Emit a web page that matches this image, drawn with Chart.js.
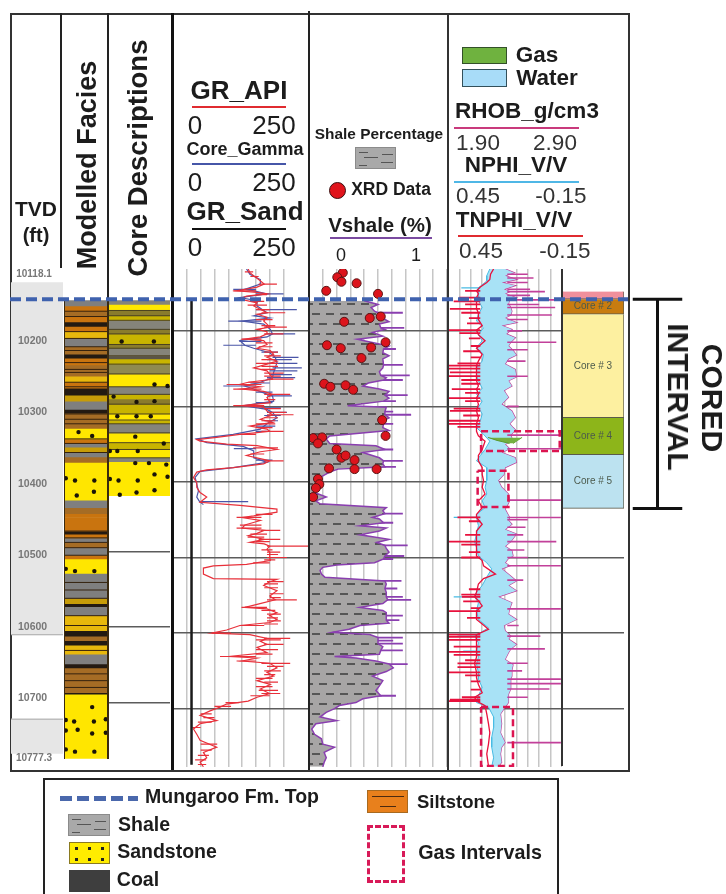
<!DOCTYPE html>
<html>
<head>
<meta charset="utf-8">
<title>Well log</title>
<script src="https://cdn.jsdelivr.net/npm/chart.js@4/dist/chart.umd.min.js"></script>
<style>
html, body { margin: 0; padding: 0; background: #fff; }
#page { position: relative; width: 726px; height: 894px; overflow: hidden; filter: blur(.35px);
        font-family: "Liberation Sans", Arial, sans-serif; color: #1c1c1c; }
canvas { position: absolute; top: 269px; }
.t { position: absolute; white-space: nowrap; line-height: 1; transform: translate(-50%, -50%); }
.b { font-weight: bold; }
.up { transform: translate(-50%, -50%) rotate(-90deg); }
.down { transform: translate(-50%, -50%) rotate(90deg); }
.r { position: absolute; }
.shale { background: #a9a9a9; border: 1px solid #8b8b8b; box-sizing: border-box; }
.shale i { position: absolute; height: 1px; background: #555; }
</style>
</head>
<body>
<div id="page">
  <div class="r" style="left:10px;top:13px;width:616px;height:755px;border:2px solid #333"></div>
  <div class="r" style="left:60px;top:13px;width:2px;height:255px;background:#222"></div>
  <div class="r" style="left:107px;top:13px;width:2px;height:285px;background:#222"></div>

  <div class="t b" style="left:36px;top:208px;font-size:21px">TVD</div>
  <div class="t b" style="left:36px;top:235px;font-size:20px">(ft)</div>
  <div class="t b up" style="left:87px;top:165px;font-size:27px">Modelled Facies</div>
  <div class="t b up" style="left:138px;top:158px;font-size:27.5px">Core Descriptions</div>

  <div class="t b" style="left:239px;top:90px;font-size:26px">GR_API</div>
  <div class="r" style="left:192px;top:106px;width:94px;height:2px;background:#e02b30"></div>
  <div class="t" style="left:195px;top:125px;font-size:26px">0</div>
  <div class="t" style="left:274px;top:125px;font-size:26px">250</div>
  <div class="t b" style="left:245px;top:149px;font-size:18px">Core_Gamma</div>
  <div class="r" style="left:192px;top:163px;width:94px;height:2px;background:#4656a8"></div>
  <div class="t" style="left:195px;top:182px;font-size:26px">0</div>
  <div class="t" style="left:274px;top:182px;font-size:26px">250</div>
  <div class="t b" style="left:245px;top:211px;font-size:26px">GR_Sand</div>
  <div class="r" style="left:192px;top:228px;width:94px;height:2px;background:#111"></div>
  <div class="t" style="left:195px;top:247px;font-size:26px">0</div>
  <div class="t" style="left:274px;top:247px;font-size:26px">250</div>

  <div class="t b" style="left:379px;top:134px;font-size:15.4px">Shale Percentage</div>
  <div class="r shale" style="left:355px;top:147px;width:41px;height:22px">
    <i style="left:3px;top:4px;width:9px"></i><i style="left:8px;top:9px;width:14px"></i>
    <i style="left:26px;top:6px;width:11px"></i><i style="left:25px;top:14px;width:12px"></i><i style="left:3px;top:17px;width:8px"></i>
  </div>
  <div class="r" style="left:329px;top:182px;width:15px;height:15px;border-radius:50%;background:#e0141c;border:1.5px solid #3a1010"></div>
  <div class="t b" style="left:391px;top:190px;font-size:17.5px">XRD Data</div>
  <div class="t b" style="left:380px;top:225px;font-size:20.5px">Vshale (%)</div>
  <div class="r" style="left:330px;top:237px;width:102px;height:2px;background:#7a4aa0"></div>
  <div class="t" style="left:341px;top:255px;font-size:18px">0</div>
  <div class="t" style="left:416px;top:255px;font-size:18px">1</div>

  <div class="r" style="left:462px;top:47px;width:45px;height:17px;background:#6fb23f;border:1.5px solid #33502a;box-sizing:border-box"></div>
  <div class="t b" style="left:537px;top:55px;font-size:22.5px">Gas</div>
  <div class="r" style="left:462px;top:69px;width:45px;height:18px;background:#a8dcf8;border:1.5px solid #33505a;box-sizing:border-box"></div>
  <div class="t b" style="left:547px;top:78px;font-size:22.5px">Water</div>
  <div class="t b" style="left:527px;top:111px;font-size:22.5px">RHOB_g/cm3</div>
  <div class="r" style="left:454px;top:127px;width:125px;height:2px;background:#c93a7c"></div>
  <div class="t" style="left:478px;top:143px;font-size:22.5px;color:#333">1.90</div>
  <div class="t" style="left:555px;top:143px;font-size:22.5px;color:#333">2.90</div>
  <div class="t b" style="left:516px;top:165px;font-size:22.5px">NPHI_V/V</div>
  <div class="r" style="left:454px;top:181px;width:125px;height:2px;background:#4fb7e6"></div>
  <div class="t" style="left:478px;top:196px;font-size:22.5px;color:#333">0.45</div>
  <div class="t" style="left:561px;top:196px;font-size:22.5px;color:#333">-0.15</div>
  <div class="t b" style="left:514px;top:220px;font-size:22.5px">TNPHI_V/V</div>
  <div class="r" style="left:458px;top:235px;width:125px;height:2px;background:#e02b30"></div>
  <div class="t" style="left:481px;top:251px;font-size:22.5px;color:#333">0.45</div>
  <div class="t" style="left:565px;top:251px;font-size:22.5px;color:#333">-0.15</div>

  <canvas id="tvdChart" width="52" height="498" style="left:11px"></canvas>
  <canvas id="faciesChart" width="44" height="498" style="left:64px"></canvas>
  <canvas id="coreChart" width="62" height="498" style="left:108px"></canvas>
  <canvas id="grChart" width="136" height="498" style="left:173px"></canvas>
  <canvas id="vshaleChart" width="138" height="498" style="left:309px"></canvas>
  <canvas id="densityChart" width="114" height="498" style="left:448px"></canvas>
  <canvas id="coresChart" width="62" height="498" style="left:562px"></canvas>

  <div class="t" style="left:34px;top:274px;font-size:10px;color:#777;font-weight:bold">10118.1</div>
  <div class="t" style="left:34px;top:758px;font-size:10px;color:#777;font-weight:bold">10777.3</div>

  <div class="r" style="left:64px;top:300px;width:1px;height:459px;background:#3a2a10"></div>
  <div class="r" style="left:107px;top:300px;width:2px;height:459px;background:#3a2a10"></div>
  <div class="r" style="left:171px;top:13px;width:3px;height:757px;background:#111"></div>
  <div class="r" style="left:308px;top:11px;width:2px;height:759px;background:#222"></div>
  <div class="r" style="left:447px;top:13px;width:2px;height:757px;background:#333"></div>
  <div class="r" style="left:561px;top:269px;width:2px;height:497px;background:#333"></div>

  <canvas id="topChart" width="618" height="498" style="left:10px"></canvas>
  <canvas id="coredChart" width="55" height="498" style="left:630px"></canvas>
  <div class="t b down" style="left:712px;top:398px;font-size:30px">CORED</div>
  <div class="t b down" style="left:678px;top:397px;font-size:30px">INTERVAL</div>

  <div class="r" style="left:43px;top:778px;width:512px;height:130px;border:2px solid #222"></div>
  <div class="r" style="left:60px;top:796px;width:78px;height:5px;background:repeating-linear-gradient(90deg,#4a68ac 0 12px,transparent 12px 17px)"></div>
  <div class="t b" style="left:232px;top:797px;font-size:19.5px">Mungaroo Fm. Top</div>
  <div class="r shale" style="left:68px;top:814px;width:42px;height:22px">
    <i style="left:3px;top:4px;width:9px"></i><i style="left:8px;top:9px;width:14px"></i>
    <i style="left:26px;top:6px;width:11px"></i><i style="left:25px;top:14px;width:12px"></i><i style="left:3px;top:17px;width:8px"></i>
  </div>
  <div class="t b" style="left:144px;top:825px;font-size:19.5px">Shale</div>
  <div class="r" style="left:69px;top:842px;width:41px;height:22px;background-color:#ffec00;border:1px solid #8a7a20;box-sizing:border-box;background-image:radial-gradient(circle,#222 1.6px,transparent 2px);background-size:13px 11px"></div>
  <div class="t b" style="left:167px;top:852px;font-size:19.5px">Sandstone</div>
  <div class="r" style="left:69px;top:870px;width:41px;height:22px;background:#3e3e3e"></div>
  <div class="t b" style="left:138px;top:880px;font-size:19.5px">Coal</div>
  <div class="r" style="left:367px;top:790px;width:41px;height:23px;background:#e8801c;border:1px solid #a86a20;box-sizing:border-box">
    <i class="r" style="left:4px;top:5px;width:32px;height:1px;background:#4a2a10"></i>
    <i class="r" style="left:12px;top:15px;width:16px;height:1px;background:#4a2a10"></i>
  </div>
  <div class="t b" style="left:456px;top:802px;font-size:18.5px">Siltstone</div>
  <div class="r" style="left:367px;top:825px;width:38px;height:58px;border:3px dashed #d81a58;box-sizing:border-box"></div>
  <div class="t b" style="left:480px;top:853px;font-size:19.7px">Gas Intervals</div>
</div>

<script>
const depthMin = 10118.1;
const depthMax = 10777.3;
const depthTicks = [10200, 10300, 10400, 10500, 10600, 10700];
const coreGridTicks = [10492, 10592, 10692];
const formationTop = 10158;
const coredInterval = [10158, 10435];

const tvdZones = [[10118.1, 10611], [10729, 10777.3]];
const tvdZoneEdges = [10611, 10729];

const faciesTops = [10160,10167,10174,10181,10188,10194,10201,10210,10221,10231,10236,10245,10255,10260,10268,10276,10285,10293,10304,10309,10317,10329,10343,10349,10354,10361,10367,10374,10424,10434,10442,10447,10465,10469,10474,10480,10487,10497,10502,10521,10533,10543,10554,10561,10565,10577,10597,10604,10610,10616,10628,10641,10646,10679,10681,10766];
const faciesRocks = ['shale','silt','mixed','silt','coal','silt','sandySilt','shale','mixed','coal','silt','mixed','mixed','sandySilt','silt','coal','gold','shale','coal','mixed','mixed','sand','silt','shale','gold','shale','mixed','sand','shale','mixed','silt','silt','coal','silt','shale','mixed','shale','silt','sand','shale','shale','shale','gold','coal','shale','sandySilt','coal','mixed','coal','sandySilt','shale','coal','mixed','coal','sand'];
const faciesDotDepth = [10334,10339,10395,10398,10398,10418,10413,10515,10518,10518,10698,10715,10717,10717,10714,10728,10729,10733,10732,10754,10757,10757];
const faciesDotPos = [.33,.64,.04,.25,.69,.29,.68,.04,.25,.69,.64,.04,.23,.68,.95,.31,.04,.64,.95,.04,.25,.69];
const faciesStreaks = [10174,10181,10201,10210,10221,10226,10242,10251,10255,10268,10274,10310,10317,10323,10343,10349,10361,10465,10474,10480,10487,10497,10533,10543,10554,10577,10590,10623,10654,10663,10672];

const coreTops = [10160,10165,10173,10180,10186,10198,10204,10218,10223,10233,10237,10244,10257,10274,10284,10290,10297,10310,10318,10323,10335,10348,10357,10368,10373,10418];
const coreRocks = ['grey','sand','olive','gold','grey','olive','gold','olive','grey','dark','gold','greyOlive','sand','grey','gold','olive','gold','sand','gold','grey','sand','gold','sand','grey','sand'];
const coreDotDepth = [10214,10214,10271,10273,10294,10293,10287,10313,10313,10313,10340,10359,10359,10359,10349,10375,10375,10377,10390,10393,10396,10398,10398,10411,10414,10417];
const coreDotPos = [.22,.74,.75,.96,.46,.75,.09,.15,.46,.69,.44,.03,.15,.48,.90,.44,.66,.94,.75,.96,.03,.17,.48,.75,.46,.19];
const coreStreaks = [10173,10180,10186,10198,10204,10218,10223,10233,10244,10257,10274,10284,10297,10310,10318,10323,10335,10348,10357,10368];

const grSandCutoff = 33.5;
const grApiDepth = [10118,10123,10127,10132,10138,10142,10145,10147,10149,10151,10154,10158,10163,10167,10176,10178,10182,10187,10191,10195,10198,10201,10204,10208,10211,10213,10218,10223,10226,10231,10235,10240,10244,10249,10253,10260,10264,10268,10271,10274,10277,10280,10284,10288,10295,10299,10301,10306,10311,10317,10321,10326,10330,10333,10337,10341,10344,10346,10350,10352,10357,10360,10365,10372,10376,10381,10384,10387,10394,10401,10407,10414,10420,10427,10431,10436,10440,10445,10447,10451,10457,10461,10464,10468,10471,10476,10480,10482,10485,10489,10493,10500,10504,10509,10511,10514,10522,10528,10529,10532,10537,10544,10551,10556,10562,10566,10568,10573,10577,10582,10586,10590,10596,10600,10602,10607,10611,10615,10619,10626,10631,10633,10637,10640,10646,10652,10657,10663,10668,10674,10680,10685,10690,10694,10698,10703,10709,10716,10720,10727,10734,10742,10751,10758,10765,10771,10777];
const grApi = [136,139,146,155,165,152,130,115,152,170,133,121,152,146,170,152,170,164,170,175,152,170,170,158,130,164,170,152,176,182,170,188,170,146,170,178,180,136,120,158,125,164,180,170,176,125,164,170,180,158,180,139,170,175,121,79,43,49,97,152,188,158,133,175,164,109,61,43,37,43,43,49,61,49,121,188,188,146,125,158,130,125,165,152,136,165,139,165,175,170,175,175,176,133,73,55,55,73,188,175,164,188,175,185,152,130,170,188,175,188,175,121,97,70,139,170,158,170,152,170,100,152,125,175,188,170,182,152,176,158,175,152,136,97,85,67,49,79,49,37,43,49,79,55,61,49,55];
const grNeedleDepth = [10138,10147,10176,10195,10204,10211,10260,10264,10268,10271,10277,10284,10299,10311,10333,10337,10372,10447,10457,10461,10464,10476,10485,10493,10500,10532,10556,10566,10590,10600,10607,10615,10631,10637,10640,10680,10122,10128,10152,10161,10166,10172,10185,10193,10216,10221,10228,10233,10238,10243,10247,10251,10256,10291,10303,10308,10315,10319,10323,10328,10355,10363,10443,10469,10473,10479,10490,10496,10503,10507,10535,10540,10548,10553,10570,10575,10580,10584,10588,10609,10622,10628,10644,10650,10655,10660,10665,10671,10676,10683,10692,10697,10707,10712,10718,10725,10747,10755,10762,10768,10774];
const grNeedleFrom = [155,150,160,165,165,160,165,170,165,160,160,165,165,170,160,150,165,160,160,160,160,155,170,170,170,170,170,170,165,105,165,165,150,150,160,160,130,140,150,140,135,150,150,160,150,155,165,165,160,150,160,160,165,165,165,175,165,160,150,150,145,140,150,140,135,150,160,170,165,145,165,165,175,175,160,170,170,170,165,150,150,150,170,165,165,150,165,150,155,140,95,75,50,55,45,35,50,50,45,40,45];
const grNeedleTo = [188,109,203,206,200,124,195,218,136,97,109,212,109,218,200,121,200,115,121,115,194,194,245,194,206,200,224,124,121,70,212,200,85,115,212,194,145,155,170,165,170,175,180,185,180,180,190,195,185,190,190,185,200,185,195,205,190,185,185,180,190,165,180,170,165,175,180,190,185,175,190,190,200,195,185,195,190,195,190,195,190,180,200,195,185,180,190,180,190,175,120,105,70,75,70,50,80,70,65,60,60];
const coreGammaDepth = [10118,10125,10132,10138,10145,10147,10151,10156,10160,10167,10176,10180,10183,10187,10191,10198,10204,10208,10213,10219,10223,10229,10235,10242,10249,10255,10262,10268,10273,10277,10282,10286,10293,10299,10304,10308,10315,10323,10330,10337,10343,10348,10353,10359,10368,10374,10381,10386,10394,10403,10412,10420,10426,10430];
const coreGamma = [133,139,158,158,130,146,170,121,152,152,170,146,175,125,164,176,180,170,121,130,146,175,185,188,185,182,180,158,130,146,164,180,182,127,170,180,188,170,158,109,43,61,127,146,146,170,109,49,40,43,46,43,48,55];
const gammaNeedleDepth = [10172,10187,10204,10219,10235,10249,10262,10273,10286,10308,10426,10238,10243,10253,10258,10295,10145,10151,10228,10214,10269,10281,10302,10312,10319,10326,10333,10356,10371];
const gammaNeedleFrom = [150,160,170,150,180,180,170,150,170,170,50,170,170,175,175,150,150,150,160,120,140,150,160,165,165,150,150,110,150];
const gammaNeedleTo = [224,100,221,91,227,233,221,91,215,206,136,215,225,225,215,180,109,200,190,160,175,180,195,195,190,185,175,150,180];

const vshaleDepth = [10160,10165,10169,10174,10176,10179,10183,10188,10191,10196,10198,10202,10207,10211,10215,10220,10224,10229,10233,10237,10245,10249,10254,10259,10262,10265,10269,10273,10277,10280,10285,10289,10293,10299,10301,10307,10311,10315,10319,10323,10328,10332,10339,10343,10349,10352,10357,10361,10368,10372,10376,10380,10383,10387,10394,10401,10407,10414,10420,10425,10429,10434,10438,10442,10447,10449,10454,10458,10461,10465,10470,10476,10480,10484,10488,10493,10498,10502,10507,10510,10513,10517,10522,10526,10528,10531,10535,10541,10546,10552,10556,10561,10566,10570,10573,10577,10583,10587,10590,10595,10599,10602,10606,10610,10614,10618,10623,10628,10631,10633,10637,10641,10646,10651,10657,10663,10670,10676,10683,10687,10692,10696,10700,10705,10711,10716,10720,10727,10734,10740,10747,10751,10758,10765,10771,10777];
const vshale = [.40,.50,.45,.475,.50,.51,.535,.58,.51,.52,.55,.46,.535,.35,.45,.58,.54,.535,.58,.535,.54,.535,.51,.52,.56,.54,.43,.39,.51,.58,.55,.58,.54,.28,.56,.55,.55,.58,.535,.54,.535,.58,.15,.125,.15,.485,.55,.39,.51,.54,.535,.55,.21,.15,.08,.065,.03,.04,.125,.05,.08,.56,.535,.55,.46,.51,.54,.37,.56,.51,.37,.58,.49,.55,.56,.58,.55,.54,.475,.2,.10,.08,.09,.115,.29,.55,.56,.55,.56,.56,.57,.535,.37,.535,.56,.56,.56,.58,.37,.29,.17,.44,.5,.5,.5,.535,.52,.51,.185,.34,.485,.58,.61,.56,.46,.535,.51,.485,.52,.39,.34,.22,.185,.125,.08,.2,.05,.02,.04,.09,.10,.185,.11,.125,.11,.10];
const vshaleNeedleDepth = [10176,10196,10224,10245,10259,10265,10285,10293,10307,10311,10323,10357,10372,10380,10442,10454,10484,10498,10502,10531,10541,10552,10556,10577,10583,10606,10610,10614,10623,10641,10646,10683];
const vshaleNeedleFrom = [.45,.50,.50,.50,.50,.50,.50,.50,.50,.50,.50,.50,.50,.50,.50,.50,.50,.50,.50,.50,.50,.50,.50,.50,.50,.45,.45,.45,.45,.50,.50,.50];
const vshaleNeedleTo = [.68,.69,.63,.68,.73,.68,.715,.63,.61,.74,.61,.61,.68,.63,.68,.61,.715,.69,.61,.67,.64,.68,.74,.68,.655,.68,.61,.68,.68,.715,.61,.63];
const xrdDepth = [10123,10129,10135,10137,10147,10151,10188,10183,10181,10219,10223,10215,10222,10236,10270,10274,10272,10278,10318,10339,10342,10341,10349,10357,10368,10365,10371,10383,10382,10383,10396,10403,10408,10420];
const xrdShale = [.245,.205,.235,.345,.125,.50,.255,.44,.52,.13,.23,.555,.45,.38,.11,.155,.265,.32,.53,.555,.03,.095,.065,.20,.235,.265,.33,.33,.145,.49,.065,.075,.05,.03];

const rhobDepth = [10118,10123,10127,10132,10136,10140,10145,10148,10151,10156,10159,10164,10169,10174,10179,10183,10189,10193,10198,10204,10209,10215,10220,10226,10232,10237,10244,10251,10261,10266,10273,10279,10288,10297,10306,10315,10323,10328,10331,10338,10342,10346,10350,10356,10361,10368,10374,10381,10390,10398,10407,10416,10424,10428,10436,10447,10451,10456,10463,10469,10479,10485,10491,10498,10501,10507,10511,10515,10522,10531,10537,10544,10552,10560,10568,10575,10582,10590,10597,10604,10608,10615,10621,10626,10635,10642,10649,10657,10661,10664,10667,10674,10681,10692,10698,10707,10720,10732,10745,10751,10760,10771,10777];
const rhob = [2.40,2.48,2.40,2.50,2.37,2.49,2.39,2.44,2.40,2.50,2.44,2.43,2.45,2.46,2.45,2.40,2.50,2.37,2.46,2.41,2.49,2.45,2.43,2.47,2.50,2.43,2.40,2.49,2.50,2.43,2.46,2.39,2.43,2.37,2.46,2.49,2.44,2.47,2.49,2.45,2.46,2.46,2.40,2.44,2.37,2.49,2.50,2.40,2.39,2.34,2.37,2.43,2.44,2.43,2.40,2.44,2.43,2.46,2.40,2.50,2.45,2.40,2.46,2.47,2.43,2.40,2.44,2.37,2.43,2.50,2.43,2.50,2.34,2.46,2.44,2.43,2.50,2.39,2.40,2.45,2.43,2.50,2.45,2.43,2.40,2.47,2.46,2.46,2.45,2.45,2.45,2.45,2.43,2.43,2.40,2.36,2.37,2.36,2.40,2.37,2.36,2.37,2.34];
const rhobNeedleDepth = [10148,10159,10169,10179,10215,10338,10356,10424,10447,10479,10511,10568,10604,10621,10661,10667,10674,10745,10125,10130,10136,10145,10153,10165,10185,10200,10225,10240,10260,10300,10450,10460,10470,10490,10500,10530,10590,10640,10650,10685];
const rhobNeedleTo = [2.75,2.89,2.84,2.81,2.85,2.89,2.89,2.89,2.89,2.85,2.89,2.89,2.71,2.75,2.89,2.89,2.79,2.89,2.6,2.65,2.6,2.62,2.62,2.7,2.6,2.55,2.6,2.58,2.6,2.52,2.6,2.58,2.56,2.57,2.6,2.56,2.52,2.6,2.55,2.6];
const nphiDepth = [10118,10127,10134,10143,10151,10160,10169,10178,10187,10196,10205,10213,10222,10231,10240,10249,10259,10266,10276,10284,10293,10301,10310,10319,10328,10337,10346,10357,10365,10372,10381,10390,10398,10407,10416,10425,10434,10443,10447,10458,10469,10479,10487,10498,10507,10515,10526,10537,10546,10552,10560,10570,10582,10593,10604,10613,10624,10632,10641,10652,10661,10672,10683,10692,10698,10711,10725,10738,10751,10765,10777];
const nphi = [.23,.246,.246,.29,.29,.29,.27,.29,.30,.263,.29,.27,.30,.263,.27,.30,.30,.29,.27,.30,.27,.29,.27,.28,.30,.263,.23,.255,.28,.30,.246,.246,.246,.255,.246,.27,.255,.30,.30,.29,.30,.31,.30,.29,.246,.22,.246,.27,.30,.31,.29,.30,.29,.237,.31,.29,.30,.29,.30,.29,.29,.27,.29,.30,.237,.21,.21,.22,.22,.21,.22];
const nphiNeedleDepth = [10143,10447,10552,10479,10604,10624];
const nphiNeedleTo = [.38,.42,.42,.36,.40,.37];
const tnphiDepth = [10118,10125,10132,10136,10142,10147,10151,10156,10161,10167,10171,10176,10185,10193,10199,10205,10213,10223,10231,10240,10246,10255,10260,10266,10273,10277,10284,10289,10297,10306,10315,10323,10328,10333,10339,10346,10357,10365,10372,10381,10390,10398,10407,10416,10425,10434,10443,10447,10456,10465,10479,10487,10498,10504,10511,10522,10528,10535,10546,10552,10557,10564,10571,10582,10588,10595,10602,10609,10615,10625,10632,10640,10652,10659,10668,10679,10685,10690,10696,10707,10720,10732,10747,10760,10776];
const tnphi = [.21,.226,.23,.246,.28,.30,.29,.30,.30,.30,.30,.29,.29,.27,.30,.29,.255,.30,.27,.29,.30,.30,.30,.30,.29,.30,.29,.30,.29,.30,.29,.30,.30,.30,.29,.255,.27,.29,.29,.27,.27,.263,.27,.255,.29,.27,.30,.30,.27,.30,.30,.30,.30,.27,.263,.20,.263,.29,.30,.31,.29,.27,.30,.30,.27,.237,.30,.30,.30,.30,.30,.31,.30,.30,.29,.27,.31,.30,.255,.246,.237,.23,.237,.246,.237];
const tnphiNeedleDepth = [10147,10156,10161,10171,10199,10246,10255,10260,10277,10289,10306,10323,10479,10571,10602,10609,10625,10640,10652,10690,10685,10552,10165,10176,10183,10190,10203,10210,10220,10227,10235,10243,10250,10265,10270,10282,10293,10303,10312,10319,10327,10447,10452,10470,10483,10493,10500,10542,10549,10558,10567,10580,10605,10618,10629,10636,10645,10656,10664,10675,10688];
const tnphiNeedleTo = [.36,.39,.42,.44,.447,.447,.44,.447,.43,.447,.44,.447,.447,.45,.447,.447,.45,.40,.447,.447,.377,.377,.36,.38,.34,.35,.39,.34,.33,.37,.33,.40,.447,.38,.38,.36,.36,.42,.37,.447,.40,.40,.34,.36,.38,.34,.38,.34,.38,.37,.33,.35,.447,.42,.42,.36,.40,.36,.33,.33,.44];
const gasLensDepth = [10341, 10345, 10349];
const gasLensLeft = [2.25, 2.33, 2.44];
const gasLensRight = [2.55, 2.51, 2.47];
const gasBoxLeft = [2.19, 2.16, 2.19];
const gasBoxRight = [2.88, 2.43, 2.47];
const gasBoxTop = [10333, 10385, 10698];
const gasBoxBase = [10359, 10433, 10776];

const coreLabels = ['', 'Core # 2', 'Core # 3', 'Core # 4', 'Core # 5'];
const coreTopsRight = [10148, 10158, 10178, 10315, 10364];
const coreBaseRight = [10158, 10178, 10315, 10364, 10435];

const rockColors = { shale: '#7f7f7f', silt: '#c9740f', mixed: '#a56c25', coal: '#231a12', sandySilt: '#e8b80c', gold: '#c79c08', sand: '#ffe600' };
const coreColors = { grey: '#85847a', sand: '#ffe800', olive: '#8a7c2c', gold: '#c8b400', dark: '#5a5448', greyOlive: '#8f8a50' };
const boxColors = ['#f0909c', '#c87c10', '#fdf0a0', '#8db51a', '#bce2f0'];

function pairs(xs, ys) {
    return xs.map((x, i) => ({ x: x, y: ys[i] }));
}

function shalePattern() {
    const c = document.createElement('canvas');
    c.width = 28;
    c.height = 20;
    const g = c.getContext('2d');
    g.fillStyle = '#a7a5a5';
    g.fillRect(0, 0, 28, 20);
    g.fillStyle = '#565656';
    [[3, 4], [17, 4], [10, 14], [24, 14], [-4, 14]].forEach(p => g.fillRect(p[0], p[1], 8, 2));
    return g.createPattern(c, 'repeat');
}

function depthAxis(ticks) {
    return {
        type: 'linear', axis: 'y', reverse: true, min: depthMin, max: depthMax,
        afterBuildTicks: s => { s.ticks = ticks.map(v => ({ value: v })); },
        afterFit: s => { s.width = 0; },
        ticks: { display: false },
        grid: { color: '#5c5c5c', lineWidth: 1.5, drawTicks: false },
        border: { display: false }
    };
}

function widthAxis(min, max, step) {
    return {
        type: 'linear', axis: 'x', min: min, max: max,
        ticks: { display: false, stepSize: step },
        grid: { color: '#c6c6c6', lineWidth: 1.5, drawTicks: false },
        border: { display: false },
        afterFit: s => { s.height = 0; }
    };
}

function hiddenAxis(axis, min, max, reverse) {
    return { type: 'linear', axis: axis, min: min, max: max, reverse: !!reverse, offset: false, display: false };
}

function baseOptions(scales) {
    return {
        responsive: false, animation: false, events: [],
        layout: { padding: 0, autoPadding: false },
        plugins: { legend: { display: false }, tooltip: { enabled: false } },
        elements: { point: { radius: 0 } },
        scales: scales
    };
}

function curve(xs, depths, color, width, extra) {
    return Object.assign({ type: 'line', data: pairs(xs, depths), borderColor: color, borderWidth: width, pointRadius: 0, tension: 0, fill: false }, extra || {});
}

// horizontal spikes on a log, each one broken off from the next
function needles(depths, from, to, color, width, extra) {
    const points = [];
    depths.forEach((d, i) => {
        points.push({ x: Array.isArray(from) ? from[i] : from, y: d }, { x: Array.isArray(to) ? to[i] : to, y: d }, { x: null, y: d });
    });
    return Object.assign({ type: 'line', data: points, borderColor: color, borderWidth: width, pointRadius: 0, tension: 0, fill: false, spanGaps: false }, extra || {});
}

function bands(tops, names, colors) {
    return names.map((name, i) => ({
        type: 'bar', data: [[tops[i], tops[i + 1]]], backgroundColor: colors[name],
        barPercentage: 1, categoryPercentage: 1, grouped: false, borderWidth: 0
    }));
}

function dots(xs, depths) {
    return { type: 'scatter', xAxisID: 'dots', data: pairs(xs, depths), pointRadius: 2.2, backgroundColor: '#1a1408', borderWidth: 0, order: -2 };
}

function bandOptions(ticks) {
    return baseOptions({
        x: { type: 'category', display: false },
        dots: hiddenAxis('x', 0, 1),
        y: ticks ? depthAxis(ticks) : hiddenAxis('y', depthMin, depthMax, true)
    });
}

const tvdOpts = bandOptions(null);
tvdOpts.scales.y = {
    type: 'linear', axis: 'y', reverse: true, min: depthMin, max: depthMax, position: 'left',
    afterBuildTicks: s => { s.ticks = depthTicks.map(v => ({ value: v })); },
    afterFit: s => { s.width = 0; },
    ticks: { z: 1, mirror: true, padding: 7, color: '#777', font: { family: 'Liberation Sans', size: 10.5, weight: 'bold' }, callback: v => String(v) },
    grid: { display: false },
    border: { display: false }
};
new Chart(document.getElementById('tvdChart'), {
    type: 'bar',
    data: {
        labels: ['TVD'],
        datasets: [needles(tvdZoneEdges, 0, 1, '#a8a8a8', 1, { xAxisID: 'dots', order: -1 })].concat(
            tvdZones.map(z => ({ data: [z], backgroundColor: '#e6e6e6', barPercentage: 1, categoryPercentage: 1, grouped: false, borderWidth: 0 })))
    },
    options: tvdOpts
});

new Chart(document.getElementById('faciesChart'), {
    type: 'bar',
    data: {
        labels: ['Facies'],
        datasets: [dots(faciesDotPos, faciesDotDepth), needles(faciesStreaks, 0, 1, '#35220e', 1, { xAxisID: 'dots', order: -1 })].concat(bands(faciesTops, faciesRocks, rockColors))
    },
    options: bandOptions(null)
});

new Chart(document.getElementById('coreChart'), {
    type: 'bar',
    data: {
        labels: ['Core'],
        datasets: [dots(coreDotPos, coreDotDepth), needles(coreStreaks, 0, 1, '#4a4020', 1, { xAxisID: 'dots', order: -1 })].concat(bands(coreTops, coreRocks, coreColors))
    },
    options: bandOptions(coreGridTicks)
});

new Chart(document.getElementById('grChart'), {
    type: 'line',
    data: {
        datasets: [
            curve([grSandCutoff, grSandCutoff], [formationTop, depthMax - 3], '#1a1a1a', 2.5),
            curve(grApi, grApiDepth, '#e8303a', 1.2),
            needles(grNeedleDepth, grNeedleFrom, grNeedleTo, '#e8303a', 1.2),
            curve(coreGamma, coreGammaDepth, '#4a55a8', 1.2),
            needles(gammaNeedleDepth, gammaNeedleFrom, gammaNeedleTo, '#4a55a8', 1.2)
        ]
    },
    options: Object.assign(baseOptions({ x: widthAxis(0, 246, 25), y: depthAxis(depthTicks) }), { indexAxis: 'y' })
});

new Chart(document.getElementById('vshaleChart'), {
    type: 'line',
    data: {
        datasets: [
            { type: 'scatter', data: pairs(xrdShale, xrdDepth), pointRadius: 4.5, backgroundColor: '#dc141c', borderColor: '#5a1414', borderWidth: 1, order: -1, clip: false },
            curve(vshale, vshaleDepth, '#8a3fb0', 1.5, { fill: { value: 0 }, backgroundColor: shalePattern() }),
            needles(vshaleNeedleDepth, vshaleNeedleFrom, vshaleNeedleTo, '#8a3fb0', 1.8)
        ]
    },
    options: Object.assign(baseOptions({ x: widthAxis(0, 1, .1), y: depthAxis(depthTicks) }), { indexAxis: 'y' })
});

const gasBoxes = gasBoxLeft.map((l, i) => curve(
    [l, gasBoxRight[i], gasBoxRight[i], l, l],
    [gasBoxTop[i], gasBoxTop[i], gasBoxBase[i], gasBoxBase[i], gasBoxTop[i]],
    '#dc1450', 2.5, { borderDash: [7, 4], order: -2, clip: false }
));

new Chart(document.getElementById('densityChart'), {
    type: 'line',
    data: {
        datasets: gasBoxes.concat([
            curve(gasLensLeft, gasLensDepth, '#5a9a30', 1, { fill: '+1', backgroundColor: '#74b040', order: -1 }),
            curve(gasLensRight, gasLensDepth, '#5a9a30', 1, { order: -1 }),
            curve(tnphi, tnphiDepth, '#e8103c', 1.3, { xAxisID: 'xPhi', order: 0 }),
            needles(tnphiNeedleDepth, .28, tnphiNeedleTo, '#e8103c', 1.8, { xAxisID: 'xPhi', order: 0 }),
            needles(rhobNeedleDepth, 2.42, rhobNeedleTo, '#c2409a', 1.6, { order: 0 }),
            needles(nphiNeedleDepth, .28, nphiNeedleTo, '#48bce4', 1.2, { xAxisID: 'xPhi', order: 1 }),
            curve(nphi, nphiDepth, '#48bce4', 1, { xAxisID: 'xPhi', fill: '+1', backgroundColor: '#a8e2f6', order: 1 }),
            curve(rhob, rhobDepth, '#c2409a', 1.3, { order: 1 })
        ])
    },
    options: Object.assign(baseOptions({ x: widthAxis(1.9, 2.9, .1), xPhi: hiddenAxis('x', -.15, .45, true), y: depthAxis(depthTicks) }), { indexAxis: 'y' })
});

const coreTextPlugin = {
    id: 'coreText',
    afterDatasetsDraw(chart) {
        const ctx = chart.ctx;
        const y = chart.scales.y;
        ctx.save();
        ctx.font = '10px "Liberation Sans"';
        ctx.fillStyle = '#4c5a4c';
        ctx.textAlign = 'center';
        ctx.textBaseline = 'middle';
        coreLabels.forEach((label, i) => {
            ctx.fillText(label, chart.width / 2, y.getPixelForValue((coreTopsRight[i] + coreBaseRight[i]) / 2));
        });
        ctx.restore();
    }
};

new Chart(document.getElementById('coresChart'), {
    type: 'bar',
    data: {
        labels: ['Cores'],
        datasets: coreTopsRight.map((t, i) => ({
            data: [[t, coreBaseRight[i]]], backgroundColor: boxColors[i], borderColor: '#5a5a4a', borderWidth: 1,
            barPercentage: 1, categoryPercentage: 1, grouped: false
        }))
    },
    options: bandOptions(depthTicks),
    plugins: [coreTextPlugin]
});

new Chart(document.getElementById('topChart'), {
    type: 'line',
    data: { datasets: [curve([0, 1], [formationTop, formationTop], '#3f62ae', 4, { borderDash: [11, 5] })] },
    options: Object.assign(baseOptions({ x: hiddenAxis('x', 0, 1), y: hiddenAxis('y', depthMin, depthMax, true) }), { indexAxis: 'y' })
});

new Chart(document.getElementById('coredChart'), {
    type: 'line',
    data: {
        datasets: [
            curve([.05, .95], [coredInterval[0], coredInterval[0]], '#111', 3),
            curve([.5, .5], coredInterval, '#111', 3),
            curve([.05, .95], [coredInterval[1], coredInterval[1]], '#111', 3)
        ]
    },
    options: Object.assign(baseOptions({ x: hiddenAxis('x', 0, 1), y: hiddenAxis('y', depthMin, depthMax, true) }), { indexAxis: 'y' })
});
</script>
</body>
</html>
